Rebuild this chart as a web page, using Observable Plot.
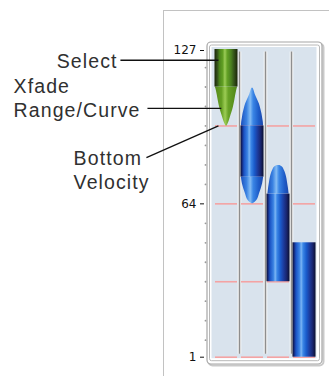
<!DOCTYPE html>
<html>
<head>
<meta charset="utf-8">
<script src="https://cdn.jsdelivr.net/npm/d3@7"></script>
<script src="https://cdn.jsdelivr.net/npm/@observablehq/plot@0.6"></script>
<style>
  html, body { margin: 0; padding: 0; background: #fff; }
  #wrap { position: relative; width: 329px; height: 376px; overflow: hidden; }
  #panel { position: absolute; left: 163px; top: 10px; width: 170px; height: 380px;
           border-left: 1px solid #c2c2c2; border-top: 1px solid #c2c2c2; }
  #chart { position: absolute; left: 0; top: 0; }
</style>
</head>
<body>
<div id="wrap"><div id="panel"></div><div id="chart"></div></div>
<script>
// ---- data ----
const layerLane   = [0, 1, 2, 3];                 // column of each velocity layer
const layerColor  = ["green", "blue", "blue", "blue"];
const bodyTop     = [127, 96, 68, 48];            // full-width part: top velocity
const bodyBottom  = [112, 75, 32, 1];             // full-width part: bottom velocity
// crossfade caps: velocity points and relative width of the shape
const topCapV     = [[], [111.5, 110.5, 109, 107, 105, 103, 101, 99, 97.5, 96], [79.8, 79.1, 78, 77, 75, 72.9, 70.5, 68], []];
const topCapW     = [[], [0.06, 0.14, 0.23, 0.42, 0.6, 0.72, 0.82, 0.89, 0.94, 0.96], [0.12, 0.34, 0.48, 0.58, 0.7, 0.78, 0.86, 0.92], []];
const bottomCapV  = [[112, 110.5, 107, 103.7, 101.5, 99.6, 97.5, 96], [75, 72.3, 68.1, 65.4, 64], [], []];
const bottomCapW  = [[0.97, 0.88, 0.74, 0.6, 0.47, 0.34, 0.2, 0.06], [0.97, 0.88, 0.61, 0.38, 0.05], [], []];
const lanes       = [0, 1, 2, 3];
const bottomVelocityLines = [96, 64, 32, 1];
const labeledTicks = [1, 64, 127];
const minorTicks  = [8, 16, 24, 32, 40, 48, 56, 72, 80, 88, 96, 104, 112, 120];
const calloutText = ["Select", "Xfade\nRange/Curve", "Bottom\nVelocity"];

// ---- tables for the marks ----
const bodies = layerLane.map((c, i) => ({c, color: layerColor[i], top: bodyTop[i], bottom: bodyBottom[i]}));
const caps = [];
layerLane.forEach((c, i) => {
  topCapV[i].forEach((v, j) => caps.push({id: "t" + i, c, color: layerColor[i], v, w: topCapW[i][j]}));
  bottomCapV[i].forEach((v, j) => caps.push({id: "b" + i, c, color: layerColor[i], v, w: bottomCapW[i][j]}));
});
const grid = lanes.flatMap(c => bottomVelocityLines.map(v => ({c, v})));
const halfW = 0.4423;
const font = "Liberation Sans, Arial, sans-serif";

const calloutsEnd = [
  {text: calloutText[0], x: -3.69, y: 123}
];
const calloutsStart = [
  {text: calloutText[1], x: -7.69, y: 107.6},
  {text: calloutText[2], x: -5.38, y: 78.1}
];
const leaders = [
  {x1: -3.58, y1: 123,   x2: 0.19, y2: 123},
  {x1: -2.54, y1: 103.2, x2: 0.3,  y2: 103.2},
  {x1: -2.58, y1: 83.0,  x2: 0.19, y2: 96}
];
const textStyle = {x: "x", y: "y", text: "text", lineHeight: 1.23, fontSize: 19.5, fontFamily: font, fill: "#303030"};

const svg = Plot.plot({
  width: 329,
  height: 376,
  marginLeft: 204,
  marginRight: 12,
  marginTop: 50,
  marginBottom: 19.3,
  style: {background: "transparent", fontFamily: "DejaVu Sans, sans-serif", fontSize: "12px", color: "#111"},
  x: {domain: [0, 4], insetLeft: 9, axis: null},
  y: {domain: [1, 127], ticks: labeledTicks, tickSize: 4, tickPadding: 4, label: null},
  marks: [
    // bezel
    Plot.rect([0], {x1: 0, x2: 4, y1: 1, y2: 127, insetLeft: -6, insetRight: -5, insetTop: -8, insetBottom: -7.3,
      dx: 1.5, dy: 1.5, fill: "none", stroke: "#c9c9c9", strokeWidth: 2, rx: 4}),
    Plot.rect([0], {x1: 0, x2: 4, y1: 1, y2: 127, insetLeft: -6, insetRight: -5, insetTop: -8, insetBottom: -7.3,
      fill: "white", stroke: "#a6a6a6", strokeWidth: 1.2, rx: 4}),
    Plot.rect([0], {x1: 0, x2: 4, y1: 1, y2: 127, insetLeft: -3.5, insetRight: -2.5, insetTop: -5, insetBottom: -4,
      fill: "none", stroke: "#b8b8b8", strokeWidth: 1, rx: 2}),
    // lane background
    Plot.rect([0], {x1: 0, x2: 4, y1: 1, y2: 127, insetLeft: -1.5, insetRight: 0.5, insetTop: -3, insetBottom: -1.5,
      fill: "#d9e3ed"}),
    // separators
    Plot.ruleX([1, 2, 3], {y1: 1, y2: 127, insetTop: -3, insetBottom: -1.5, stroke: "white", strokeWidth: 3.5}),
    Plot.ruleX([1, 2, 3], {y1: 1, y2: 127, insetTop: -3, insetBottom: -1.5, stroke: "#8e8e8e", strokeWidth: 1.6}),
    // bottom-velocity lines
    Plot.ruleY(grid, {y: "v", x1: "c", x2: d => d.c + 1, insetLeft: 2, insetRight: 2, stroke: "#f4a3a3", strokeWidth: 1.6}),
    // crossfade caps
    Plot.areaX(caps.filter(d => d.color === "green"), {y: "v", x1: d => d.c + 0.5 - d.w * halfW, x2: d => d.c + 0.5 + d.w * halfW,
      z: "id", fill: "url(#greenCap)", curve: "monotone-y"}),
    Plot.areaX(caps.filter(d => d.color === "blue"), {y: "v", x1: d => d.c + 0.5 - d.w * halfW, x2: d => d.c + 0.5 + d.w * halfW,
      z: "id", fill: "url(#blueCap)", curve: "monotone-y"}),
    // full-width bodies
    Plot.rect(bodies.filter(d => d.color === "green"), {x1: "c", x2: d => d.c + 1, y1: "bottom", y2: "top",
      insetLeft: 1.5, insetRight: 1.5, insetTop: -1, fill: "url(#greenBody)"}),
    Plot.rect(bodies.filter(d => d.color === "blue"), {x1: "c", x2: d => d.c + 1, y1: "bottom", y2: "top",
      insetLeft: 1.5, insetRight: 1.5, fill: "url(#blueBody)"}),
    // minor ticks
    Plot.dot(minorTicks, {x: 0, y: d => d, dx: -8, r: 0.9, fill: "#9a9a9a", stroke: "none"}),
    // callouts
    Plot.link(leaders, {x1: "x1", y1: "y1", x2: "x2", y2: "y2", stroke: "#111", strokeWidth: 1.3}),
    Plot.text(calloutsEnd, {...textStyle, textAnchor: "end"}),
    Plot.text(calloutsStart, {...textStyle, textAnchor: "start"})
  ]
});

// slightly open letter spacing of the callout labels
svg.querySelectorAll('g[aria-label="text"] text').forEach(t => t.style.letterSpacing = "1.1px");

// gradients
const ns = "http://www.w3.org/2000/svg";
const defs = document.createElementNS(ns, "defs");
function grad(id, stops) {
  const g = document.createElementNS(ns, "linearGradient");
  g.setAttribute("id", id);
  g.setAttribute("x1", "0"); g.setAttribute("x2", "1"); g.setAttribute("y1", "0"); g.setAttribute("y2", "0");
  stops.forEach(([o, c]) => {
    const s = document.createElementNS(ns, "stop");
    s.setAttribute("offset", o); s.setAttribute("stop-color", c);
    g.appendChild(s);
  });
  defs.appendChild(g);
}
grad("blueBody", [[0, "#0a0f2e"], [0.07, "#14287a"], [0.15, "#1a52c4"], [0.3, "#3a82e2"], [0.38, "#7ab4f4"], [0.46, "#3a86e6"],
  [0.6, "#1a5ccc"], [0.74, "#1c3c9e"], [0.88, "#18246c"], [1, "#0a0f2e"]]);
grad("blueCap", [[0, "#1c50bc"], [0.25, "#3a82e2"], [0.42, "#84bcf4"], [0.55, "#3a86e6"], [0.8, "#1e5cc8"], [1, "#1a46aa"]]);
grad("greenBody", [[0, "#1a2408"], [0.12, "#33501a"], [0.22, "#4d861c"], [0.36, "#62a024"], [0.45, "#9ccc58"], [0.55, "#64a226"],
  [0.72, "#4a8020"], [0.85, "#34521a"], [1, "#1a2408"]]);
grad("greenCap", [[0, "#55881a"], [0.3, "#66a024"], [0.46, "#9ccc54"], [0.6, "#68a226"], [1, "#4f8418"]]);
svg.insertBefore(defs, svg.firstChild);

document.getElementById("chart").appendChild(svg);
</script>
</body>
</html>
